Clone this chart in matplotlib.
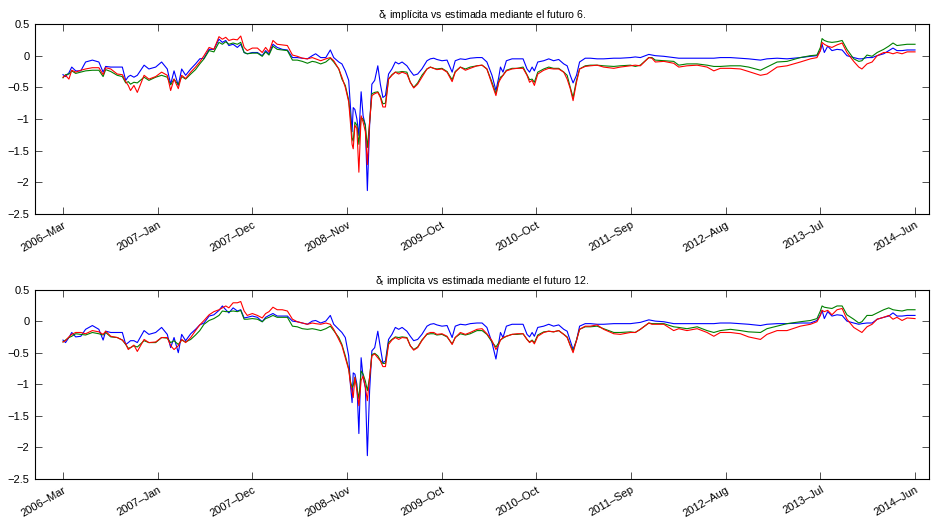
import numpy as np
import matplotlib
matplotlib.use("Agg")
import matplotlib.pyplot as plt
from matplotlib.ticker import FuncFormatter

plt.rcParams['font.family'] = ['Liberation Sans', 'DejaVu Sans']
plt.rcParams['mathtext.fontset'] = 'custom'
plt.rcParams['mathtext.rm'] = 'Liberation Sans'
plt.rcParams['mathtext.it'] = 'Liberation Sans'

# dias desde 2006-03-01
dias = [0, 9, 21, 31, 45, 63, 80, 104, 127, 142, 151, 169, 192, 210, 222,
        231, 239, 251, 263, 287, 304, 328, 349, 369, 381, 393, 408, 420, 434, 452,
        469, 484, 499, 517, 534, 552, 564, 576, 587, 602, 617, 629, 641, 652, 670,
        688, 705, 717, 729, 743, 758, 776, 794, 812, 829, 847, 865, 882, 894, 912,
        930,
        946, 958, 976, 987, 999, 1011, 1017, 1023, 1027, 1033, 1040, 1047, 1055, 1062, 1070,
        1077, 1085, 1093, 1103, 1114, 1123, 1132, 1141, 1152, 1164, 1176, 1188, 1200, 1217, 1229,
        1241, 1255, 1270, 1288, 1300, 1312, 1323, 1341, 1359, 1377, 1388, 1406, 1424, 1441, 1465,
        1483, 1500, 1518, 1532, 1542, 1548, 1557, 1569, 1589, 1607, 1628, 1642, 1651, 1660, 1668,
        1680, 1701, 1719, 1736, 1754, 1772, 1784, 1795, 1805, 1817, 1828, 1848, 1866, 1890, 1913,
        1949,
        1972, 2008, 2025, 2043, 2073, 2084, 2096, 2126, 2161, 2179, 2208, 2244, 2279, 2303, 2326,
        2362, 2397, 2426, 2468, 2491, 2527, 2562, 2609, 2645, 2668, 2680, 2686, 2694, 2706, 2721,
        2739, 2757, 2774, 2798, 2816, 2827, 2845, 2863, 2881, 2904, 2922, 2937, 2951, 2969, 2987,
        3015]

# futuro 6
f6_azul = [-0.30, -0.33, -0.27, -0.18, -0.24, -0.24, -0.10, -0.07, -0.10, -0.26,
           -0.17, -0.18, -0.18, -0.18, -0.39, -0.33, -0.31, -0.34, -0.31, -0.15,
           -0.21, -0.18, -0.10, -0.21, -0.45, -0.24, -0.47, -0.21, -0.31, -0.21,
           -0.13, -0.05, -0.04, 0.10, 0.10, 0.26, 0.21, 0.24, 0.16, 0.18,
           0.13, 0.18, 0.05, 0.03, 0.05, 0.05, 0.00, 0.08, 0.03, 0.18,
           0.13, 0.10, 0.09, -0.03, -0.03, -0.04, -0.05, 0.00, 0.03, -0.03,
           -0.03,
           0.09, -0.03, -0.10, -0.13, -0.24, -0.39, -0.80, -1.20, -0.82, -0.85,
           -1.00, -1.26, -0.57, -0.95, -1.10, -2.13, -1.10, -0.45, -0.39, -0.16,
           -0.45, -0.66, -0.63, -0.29, -0.21, -0.10, -0.13, -0.10, -0.16, -0.24,
           -0.31, -0.29, -0.21, -0.08, -0.05, -0.04, -0.06, -0.08, -0.07, -0.26,
           -0.08, -0.05, -0.06, -0.04, -0.03, -0.03, -0.10, -0.31, -0.55, -0.34,
           -0.18, -0.26, -0.08, -0.05, -0.05, -0.05, -0.21, -0.26, -0.18, -0.24,
           -0.10, -0.08, -0.05, -0.08, -0.06, -0.13, -0.16, -0.31, -0.43, -0.31,
           -0.10, -0.04, -0.04, -0.05, -0.05, -0.04,
           -0.04, -0.03, -0.02, -0.03, 0.02, 0.01, 0.00, -0.01, -0.03, -0.04,
           -0.04, -0.04, -0.04, -0.04, -0.03, -0.03, -0.04, -0.05, -0.07, -0.05,
           -0.04, -0.05, -0.03, -0.01, 0.00, 0.08, 0.18, 0.05, 0.15, 0.08,
           0.10, 0.09, 0.00, -0.03, -0.05, -0.05, -0.03, -0.03, 0.00, 0.03,
           0.08, 0.12, 0.08, 0.08, 0.09, 0.09]
f6_verde = [-0.35, -0.30, -0.29, -0.24, -0.28, -0.26, -0.24, -0.23, -0.23, -0.33,
            -0.22, -0.25, -0.31, -0.33, -0.43, -0.41, -0.45, -0.42, -0.43, -0.34,
            -0.39, -0.34, -0.31, -0.34, -0.46, -0.37, -0.46, -0.33, -0.37, -0.29,
            -0.22, -0.13, -0.05, 0.08, 0.06, 0.21, 0.18, 0.22, 0.18, 0.20,
            0.18, 0.21, 0.05, 0.03, 0.04, 0.04, -0.01, 0.06, 0.01, 0.15,
            0.10, 0.09, 0.08, -0.07, -0.07, -0.09, -0.12, -0.09, -0.10, -0.13,
            -0.10,
            -0.04, -0.10, -0.21, -0.37, -0.47, -0.70, -0.95, -1.30, -1.35, -1.05,
            -1.10, -1.40, -0.98, -1.00, -1.10, -1.45, -1.05, -0.60, -0.58, -0.57,
            -0.64, -0.76, -0.75, -0.37, -0.30, -0.26, -0.26, -0.25, -0.26, -0.42,
            -0.50, -0.43, -0.31, -0.21, -0.18, -0.20, -0.21, -0.20, -0.25, -0.38,
            -0.25, -0.18, -0.21, -0.18, -0.16, -0.15, -0.21, -0.42, -0.60, -0.41,
            -0.34, -0.31, -0.23, -0.20, -0.20, -0.18, -0.30, -0.38, -0.37, -0.42,
            -0.26, -0.21, -0.18, -0.20, -0.20, -0.26, -0.31, -0.50, -0.66, -0.39,
            -0.21, -0.16, -0.15, -0.15, -0.16, -0.17,
            -0.16, -0.15, -0.17, -0.15, -0.03, -0.03, -0.07, -0.08, -0.09, -0.15,
            -0.13, -0.13, -0.15, -0.17, -0.17, -0.16, -0.16, -0.18, -0.23, -0.18,
            -0.10, -0.09, -0.03, 0.00, 0.01, 0.13, 0.27, 0.24, 0.22, 0.21,
            0.22, 0.24, 0.10, -0.05, -0.09, -0.08, 0.01, -0.01, 0.05, 0.10,
            0.15, 0.20, 0.16, 0.17, 0.18, 0.18]
f6_rojo = [-0.34, -0.31, -0.37, -0.23, -0.26, -0.23, -0.21, -0.19, -0.19, -0.30,
           -0.19, -0.21, -0.29, -0.30, -0.41, -0.47, -0.55, -0.47, -0.58, -0.31,
           -0.37, -0.33, -0.26, -0.31, -0.55, -0.37, -0.52, -0.31, -0.36, -0.26,
           -0.18, -0.10, 0.00, 0.13, 0.10, 0.30, 0.26, 0.29, 0.24, 0.26,
           0.25, 0.31, 0.13, 0.08, 0.12, 0.12, 0.05, 0.13, 0.06, 0.24,
           0.18, 0.17, 0.16, 0.01, -0.01, -0.04, -0.05, -0.03, -0.05, -0.08,
           -0.05,
           -0.03, -0.08, -0.21, -0.34, -0.50, -0.73, -1.05, -1.40, -1.47, -1.10,
           -1.15, -1.84, -0.95, -1.05, -1.20, -1.72, -1.05, -0.63, -0.60, -0.58,
           -0.66, -0.81, -0.81, -0.37, -0.31, -0.26, -0.29, -0.26, -0.29, -0.42,
           -0.51, -0.45, -0.34, -0.21, -0.18, -0.20, -0.22, -0.21, -0.26, -0.41,
           -0.26, -0.18, -0.23, -0.20, -0.16, -0.15, -0.21, -0.45, -0.63, -0.42,
           -0.37, -0.31, -0.24, -0.21, -0.20, -0.20, -0.31, -0.42, -0.39, -0.47,
           -0.29, -0.23, -0.20, -0.21, -0.21, -0.26, -0.37, -0.52, -0.71, -0.42,
           -0.21, -0.17, -0.16, -0.15, -0.18, -0.20,
           -0.18, -0.16, -0.15, -0.16, -0.03, -0.04, -0.10, -0.09, -0.12, -0.18,
           -0.16, -0.15, -0.18, -0.24, -0.20, -0.20, -0.21, -0.25, -0.31, -0.29,
           -0.18, -0.16, -0.10, -0.05, -0.03, 0.08, 0.21, 0.18, 0.15, 0.13,
           0.17, 0.20, 0.05, -0.09, -0.18, -0.21, -0.13, -0.10, 0.00, 0.05,
           0.05, 0.03, 0.05, 0.03, 0.06, 0.06]

# futuro 12
f12_azul = [-0.30, -0.34, -0.26, -0.18, -0.25, -0.24, -0.13, -0.07, -0.13, -0.30,
            -0.16, -0.18, -0.18, -0.18, -0.37, -0.34, -0.31, -0.31, -0.34, -0.15,
            -0.21, -0.18, -0.10, -0.21, -0.42, -0.26, -0.50, -0.21, -0.31, -0.20,
            -0.13, -0.06, -0.03, 0.08, 0.10, 0.17, 0.24, 0.18, 0.13, 0.21,
            0.16, 0.18, 0.05, 0.06, 0.08, 0.06, -0.01, 0.06, 0.09, 0.12,
            0.08, 0.08, 0.08, 0.00, -0.01, -0.03, -0.05, 0.00, 0.01, -0.03,
            0.00,
            0.09, -0.05, -0.13, -0.18, -0.26, -0.55, -1.00, -1.29, -0.82, -0.84,
            -1.00, -1.78, -0.58, -0.89, -1.05, -2.13, -1.10, -0.47, -0.42, -0.16,
            -0.42, -0.66, -0.63, -0.29, -0.21, -0.10, -0.13, -0.10, -0.16, -0.24,
            -0.31, -0.29, -0.21, -0.08, -0.05, -0.04, -0.06, -0.08, -0.07, -0.26,
            -0.08, -0.05, -0.06, -0.04, -0.03, -0.03, -0.10, -0.34, -0.60, -0.34,
            -0.18, -0.26, -0.08, -0.05, -0.05, -0.05, -0.21, -0.25, -0.18, -0.24,
            -0.10, -0.08, -0.05, -0.08, -0.06, -0.13, -0.16, -0.31, -0.45, -0.31,
            -0.08, -0.04, -0.04, -0.05, -0.05, -0.04,
            -0.04, -0.04, -0.03, -0.02, 0.02, 0.01, 0.00, -0.01, -0.04, -0.04,
            -0.04, -0.04, -0.04, -0.04, -0.03, -0.03, -0.04, -0.05, -0.07, -0.05,
            -0.04, -0.04, -0.03, -0.03, 0.01, 0.10, 0.17, 0.04, 0.15, 0.08,
            0.10, 0.09, 0.00, -0.03, -0.05, -0.04, -0.03, -0.03, 0.03, 0.06,
            0.08, 0.13, 0.08, 0.08, 0.09, 0.09]
f12_verde = [-0.33, -0.30, -0.26, -0.24, -0.20, -0.21, -0.22, -0.18, -0.20, -0.22,
             -0.18, -0.25, -0.26, -0.30, -0.37, -0.43, -0.42, -0.39, -0.41, -0.31,
             -0.34, -0.34, -0.26, -0.27, -0.34, -0.31, -0.37, -0.30, -0.33, -0.29,
             -0.22, -0.15, -0.05, 0.01, 0.04, 0.09, 0.16, 0.15, 0.15, 0.16,
             0.15, 0.17, 0.03, 0.03, 0.04, 0.03, -0.01, 0.04, 0.06, 0.09,
             0.06, 0.06, 0.06, -0.08, -0.09, -0.12, -0.13, -0.12, -0.13, -0.15,
             -0.12,
             -0.08, -0.15, -0.26, -0.37, -0.55, -0.75, -0.95, -1.05, -1.02, -0.89,
             -1.05, -1.23, -0.79, -0.84, -0.95, -1.10, -0.89, -0.53, -0.51, -0.55,
             -0.62, -0.67, -0.67, -0.34, -0.29, -0.25, -0.26, -0.25, -0.26, -0.39,
             -0.45, -0.41, -0.30, -0.21, -0.20, -0.20, -0.22, -0.21, -0.25, -0.36,
             -0.26, -0.20, -0.22, -0.20, -0.15, -0.15, -0.21, -0.33, -0.41, -0.34,
             -0.30, -0.27, -0.24, -0.21, -0.21, -0.20, -0.29, -0.33, -0.30, -0.34,
             -0.22, -0.17, -0.16, -0.17, -0.15, -0.21, -0.25, -0.38, -0.47, -0.30,
             -0.13, -0.09, -0.09, -0.08, -0.12, -0.18,
             -0.18, -0.17, -0.18, -0.13, -0.03, -0.04, -0.04, -0.04, -0.09, -0.10,
             -0.12, -0.09, -0.15, -0.18, -0.15, -0.13, -0.15, -0.17, -0.18, -0.12,
             -0.08, -0.04, -0.01, 0.01, 0.04, 0.16, 0.24, 0.22, 0.21, 0.20,
             0.24, 0.24, 0.10, 0.03, -0.03, -0.01, 0.09, 0.09, 0.13, 0.18,
             0.21, 0.18, 0.17, 0.16, 0.18, 0.18]
f12_rojo = [-0.33, -0.31, -0.25, -0.21, -0.18, -0.18, -0.20, -0.15, -0.17, -0.21,
            -0.16, -0.24, -0.26, -0.30, -0.36, -0.45, -0.42, -0.38, -0.48, -0.29,
            -0.34, -0.33, -0.26, -0.26, -0.39, -0.45, -0.39, -0.29, -0.34, -0.26,
            -0.15, -0.06, 0.01, 0.10, 0.15, 0.18, 0.21, 0.24, 0.21, 0.29,
            0.29, 0.31, 0.16, 0.09, 0.12, 0.09, 0.05, 0.12, 0.15, 0.22,
            0.18, 0.18, 0.16, 0.03, -0.01, -0.03, -0.05, -0.03, -0.04, -0.05,
            -0.03,
            -0.05, -0.13, -0.29, -0.39, -0.58, -0.77, -0.98, -1.12, -1.21, -0.89,
            -1.10, -1.34, -0.94, -0.87, -1.05, -1.26, -0.89, -0.55, -0.52, -0.58,
            -0.63, -0.72, -0.72, -0.37, -0.30, -0.26, -0.29, -0.26, -0.27, -0.39,
            -0.46, -0.42, -0.31, -0.20, -0.18, -0.18, -0.21, -0.20, -0.24, -0.37,
            -0.26, -0.18, -0.21, -0.18, -0.13, -0.12, -0.20, -0.31, -0.45, -0.37,
            -0.30, -0.26, -0.24, -0.21, -0.20, -0.20, -0.29, -0.34, -0.31, -0.36,
            -0.24, -0.18, -0.16, -0.17, -0.15, -0.21, -0.26, -0.39, -0.50, -0.31,
            -0.13, -0.08, -0.08, -0.06, -0.13, -0.20,
            -0.21, -0.18, -0.18, -0.13, -0.03, -0.05, -0.05, -0.05, -0.15, -0.12,
            -0.15, -0.12, -0.18, -0.24, -0.18, -0.18, -0.20, -0.25, -0.29, -0.21,
            -0.15, -0.15, -0.08, -0.05, -0.01, 0.09, 0.17, 0.15, 0.17, 0.10,
            0.18, 0.20, 0.03, -0.10, -0.15, -0.18, -0.09, -0.05, 0.03, 0.06,
            0.09, 0.03, 0.06, 0.01, 0.05, 0.04]

etiquetas_x = ['2006\u2013Mar', '2007\u2013Jan', '2007\u2013Dec', '2008\u2013Nov', '2009\u2013Oct',
               '2010\u2013Oct', '2011\u2013Sep', '2012\u2013Aug', '2013\u2013Jul', '2014\u2013Jun']
titulos = [r'$\mathrm{\delta_t}$ implícita vs estimada mediante el futuro 6.',
           r'$\mathrm{\delta_t}$ implícita vs estimada mediante el futuro 12.']

fig = plt.figure(figsize=(9.36, 5.23), dpi=100)
ax1 = fig.add_axes([0.0374, 0.5908, 0.955, 0.3633])
ax2 = fig.add_axes([0.0374, 0.0841, 0.955, 0.3623])

series = [(ax1, f6_azul, f6_verde, f6_rojo, titulos[0]),
          (ax2, f12_azul, f12_verde, f12_rojo, titulos[1])]
ticks_x = np.linspace(dias[0], dias[-1], len(etiquetas_x))
fmt = FuncFormatter(lambda v, p: ('%g' % v).replace('-', '\u2212'))

for ax, azul, verde, rojo, tit in series:
    ax.plot(dias, azul, color=(0, 0, 1), lw=0.8)
    ax.plot(dias, verde, color=(0, 0.5, 0), lw=0.8)
    ax.plot(dias, rojo, color=(1, 0, 0), lw=0.8)
    ax.set_xlim(-99, 3064)
    ax.set_ylim(-2.5, 0.5)
    ax.set_yticks(np.arange(-2.5, 0.51, 0.5))
    ax.yaxis.set_major_formatter(fmt)
    ax.set_xticks(ticks_x)
    ax.set_xticklabels(etiquetas_x, rotation=30, ha='right', rotation_mode='anchor')
    ax.tick_params(direction='in', length=5, width=0.6, labelsize=8,
                   top=True, right=True, color='#333333', pad=4)
    for s in ax.spines.values():
        s.set_linewidth(0.8)
    ax.set_title(tit, fontsize=7.6, pad=4)

fig.savefig('out.png', dpi=100)
